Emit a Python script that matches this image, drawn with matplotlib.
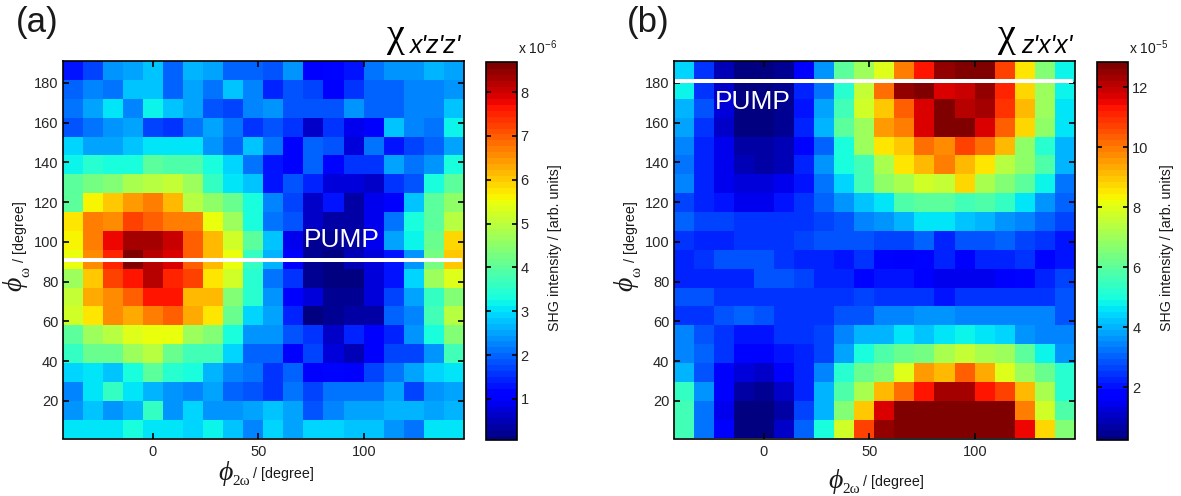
#!/usr/bin/env python

import numpy as np
import matplotlib
matplotlib.use('Agg')
import matplotlib.pyplot as plt

plt.rcParams['font.family'] = ['Liberation Sans', 'DejaVu Sans']
plt.rcParams['mathtext.default'] = 'regular'

W, H = 1181, 496

# rows run from the top of the map (phi_w = 191) down to the bottom (phi_w = 1)
# panel a, units of 1e-6
chi_xzz = [
    [1.4, 1.8, 2.4, 2.6, 2.85, 1.95, 2.7, 2.55, 1.95, 1.95, 1.9, 2.4, 1.1, 1.2, 1.35, 2.2, 2.4, 2.4, 2.65, 2.5],
    [1.95, 2.35, 2.2, 2.8, 2.85, 1.95, 2.5, 2.1, 2.85, 2.35, 1.45, 1.9, 1.8, 1.1, 1.6, 2.0, 2.0, 2.3, 2.25, 2.4],
    [2.2, 2.5, 3.1, 2.35, 3.2, 2.8, 2.6, 1.85, 1.8, 2.35, 2.4, 1.9, 1.9, 1.9, 2.4, 1.95, 2.0, 2.3, 2.3, 2.85],
    [1.85, 2.1, 2.4, 2.55, 1.75, 1.6, 2.2, 2.55, 2.2, 1.6, 1.9, 1.6, 0.7, 1.6, 0.9, 1.05, 2.8, 2.25, 2.2, 3.2],
    [2.95, 2.6, 2.6, 2.8, 3.15, 3.05, 3.1, 2.4, 2.0, 2.8, 2.1, 1.1, 2.0, 1.85, 0.8, 2.1, 1.35, 1.75, 2.0, 2.5],
    [3.25, 3.55, 3.4, 3.3, 4.0, 3.85, 3.9, 3.3, 3.0, 2.2, 1.3, 1.1, 2.0, 1.2, 1.6, 1.6, 2.6, 2.2, 2.4, 3.3],
    [4.0, 4.3, 4.5, 4.9, 5.0, 5.15, 4.75, 3.7, 3.1, 2.85, 1.4, 1.9, 1.45, 0.85, 0.85, 0.7, 1.6, 1.9, 3.3, 4.0],
    [4.1, 5.6, 6.1, 6.5, 6.8, 6.2, 5.0, 4.6, 4.2, 3.3, 2.3, 1.8, 0.7, 1.4, 0.35, 1.0, 1.05, 2.85, 4.0, 4.6],
    [5.8, 6.7, 6.6, 7.3, 7.05, 6.8, 6.8, 5.55, 4.65, 3.3, 2.2, 1.9, 0.7, 0.4, 0.4, 1.0, 2.1, 3.3, 4.1, 5.0],
    [5.6, 6.7, 7.8, 8.3, 8.4, 8.1, 7.05, 6.2, 5.3, 4.0, 2.85, 1.0, 0.3, 0.3, 0.35, 0.95, 2.55, 3.2, 4.2, 5.9],
    [5.5, 6.6, 7.5, 8.65, 8.2, 8.0, 7.05, 6.15, 5.5, 3.6, 2.75, 1.1, 0.2, 0.15, 0.5, 0.85, 1.3, 2.45, 4.35, 6.1],
    [4.75, 6.0, 7.3, 7.65, 8.2, 7.5, 7.3, 5.8, 5.2, 3.45, 2.15, 1.6, 0.2, 0.1, 0.1, 0.75, 1.35, 3.0, 4.75, 5.35],
    [5.1, 6.3, 6.55, 7.05, 7.65, 7.65, 6.25, 6.25, 4.4, 3.45, 2.45, 1.1, 0.85, 0.25, 0.25, 0.85, 1.7, 2.6, 3.6, 4.5],
    [5.25, 5.8, 6.55, 6.35, 6.8, 6.95, 6.3, 5.8, 4.2, 3.0, 2.55, 1.45, 0.06, 0.3, 0.4, 0.45, 2.0, 2.25, 3.75, 4.95],
    [4.0, 4.65, 4.95, 5.35, 5.5, 5.5, 4.75, 4.5, 3.3, 2.45, 2.45, 1.85, 1.6, 0.65, 1.45, 1.1, 1.45, 2.45, 3.3, 4.4],
    [3.6, 4.2, 4.2, 4.75, 5.0, 4.2, 3.75, 3.75, 3.0, 2.0, 2.0, 1.1, 1.8, 0.8, 0.55, 1.05, 1.8, 1.8, 2.45, 3.75],
    [2.95, 3.05, 2.85, 3.3, 4.0, 3.45, 3.3, 2.7, 2.35, 2.2, 1.6, 2.0, 1.1, 1.25, 1.1, 1.8, 2.2, 2.6, 2.95, 3.05],
    [2.35, 3.05, 3.6, 3.05, 2.7, 2.4, 2.35, 2.6, 2.0, 1.9, 1.6, 2.2, 1.7, 2.1, 2.1, 2.1, 2.55, 1.7, 2.4, 2.6],
    [2.45, 2.8, 2.4, 2.7, 3.7, 2.4, 2.95, 2.4, 2.45, 2.6, 2.85, 2.55, 1.85, 2.3, 2.6, 2.6, 2.7, 2.7, 2.55, 2.7],
    [3.15, 3.15, 3.15, 3.4, 3.15, 3.15, 2.95, 3.2, 2.85, 2.35, 2.9, 2.55, 2.9, 2.9, 2.85, 2.8, 2.4, 2.1, 3.1, 3.15],
]

# panel b, units of 1e-5
chi_zxx = [
    [4.5, 2.6, 0.9, 0.25, 0.25, 0.5, 1.7, 3.7, 6.0, 7.1, 8.1, 10.0, 11.3, 12.6, 12.85, 12.7, 10.7, 8.6, 6.65, 4.85],
    [4.9, 2.5, 1.2, 0.3, 0.3, 0.5, 2.3, 3.3, 5.2, 7.6, 10.2, 12.5, 12.85, 11.7, 11.9, 12.5, 11.1, 8.85, 6.95, 4.85],
    [4.15, 2.85, 1.4, 0.3, 0.25, 0.5, 2.1, 3.95, 5.6, 7.75, 8.95, 10.3, 11.8, 12.75, 12.1, 12.3, 10.9, 9.2, 7.0, 4.6],
    [3.95, 2.5, 1.1, 0.4, 0.25, 0.5, 2.3, 4.05, 6.1, 7.1, 9.6, 10.0, 11.8, 12.85, 12.85, 11.7, 10.3, 8.75, 6.85, 4.6],
    [3.4, 2.4, 1.55, 0.8, 0.7, 0.9, 1.9, 3.05, 5.0, 7.1, 8.6, 9.05, 10.1, 9.8, 10.7, 10.1, 9.2, 6.75, 5.2, 4.15],
    [3.3, 2.4, 1.55, 0.9, 0.7, 1.0, 2.4, 3.75, 5.0, 5.6, 7.3, 8.6, 9.2, 9.9, 9.3, 8.6, 7.4, 6.85, 5.8, 4.15],
    [3.5, 2.3, 1.6, 1.4, 1.4, 1.6, 2.2, 3.3, 4.4, 5.6, 6.75, 7.2, 7.9, 7.55, 8.75, 7.2, 6.55, 6.1, 4.85, 3.3],
    [2.7, 2.4, 2.1, 1.55, 1.55, 2.1, 2.5, 3.05, 3.75, 4.3, 4.6, 5.9, 6.1, 6.1, 5.6, 5.8, 5.4, 4.6, 3.75, 3.15],
    [3.05, 2.7, 2.7, 2.5, 2.5, 2.6, 2.6, 2.7, 3.0, 3.4, 3.75, 4.15, 4.7, 4.6, 4.3, 4.15, 3.75, 3.55, 3.15, 2.7],
    [2.5, 2.3, 2.3, 2.6, 2.6, 2.6, 2.7, 2.85, 2.85, 2.85, 2.7, 2.7, 3.15, 2.3, 2.95, 2.95, 3.05, 2.7, 2.5, 2.1],
    [2.3, 2.5, 2.95, 2.95, 2.85, 2.6, 2.3, 2.4, 2.2, 2.6, 2.0, 1.7, 2.0, 2.3, 1.65, 2.3, 2.3, 2.6, 1.9, 2.2],
    [2.4, 2.4, 2.4, 2.4, 2.95, 2.95, 2.7, 2.3, 2.3, 1.9, 2.2, 2.2, 1.65, 1.55, 1.55, 1.55, 1.7, 1.9, 2.3, 2.7],
    [2.95, 2.95, 2.5, 2.5, 2.5, 2.5, 2.5, 2.5, 2.5, 2.7, 2.5, 2.5, 2.5, 2.2, 2.5, 2.5, 2.5, 2.5, 2.5, 2.95],
    [2.5, 2.5, 2.85, 3.05, 2.85, 2.5, 2.5, 2.5, 2.95, 2.95, 3.5, 3.55, 3.65, 3.65, 3.55, 3.4, 3.55, 3.4, 3.55, 2.95],
    [3.4, 2.95, 2.6, 2.1, 2.1, 2.5, 2.5, 2.7, 3.5, 4.05, 4.15, 4.6, 4.3, 4.6, 4.9, 4.6, 4.4, 3.75, 3.55, 3.55],
    [3.55, 3.05, 2.6, 1.9, 1.9, 2.1, 2.3, 2.7, 3.95, 5.0, 5.8, 6.2, 6.45, 7.3, 7.7, 7.3, 6.95, 6.0, 4.85, 3.75],
    [4.15, 2.95, 1.7, 1.4, 1.2, 1.7, 2.3, 3.55, 5.2, 6.2, 6.65, 8.1, 9.6, 9.3, 10.3, 9.5, 8.1, 7.0, 6.2, 5.2],
    [5.4, 3.65, 1.7, 0.7, 0.5, 1.2, 2.3, 4.15, 5.8, 7.3, 9.15, 10.2, 11.3, 12.3, 12.3, 11.3, 10.7, 9.15, 7.3, 5.2],
    [5.6, 3.3, 1.55, 0.4, 0.25, 0.8, 2.7, 4.05, 6.55, 8.95, 11.7, 12.85, 12.85, 12.85, 12.85, 12.85, 12.85, 9.9, 7.9, 5.9],
    [5.6, 3.3, 1.65, 0.3, 0.3, 1.1, 3.15, 5.0, 7.9, 10.7, 12.5, 12.85, 12.85, 12.85, 12.85, 12.85, 12.85, 11.5, 8.85, 6.55],
]

x_ticks = [0, 50, 100]
y_ticks = [20, 40, 60, 80, 100, 120, 140, 160, 180]
cbar_ticks_a = [1, 2, 3, 4, 5, 6, 7, 8]
cbar_ticks_b = [2, 4, 6, 8, 10, 12]


def px_axes(fig, left, top, right, bottom):
    return fig.add_axes([left / W, 1 - bottom / H, (right - left) / W, (bottom - top) / H])


def px_text(fig, x, y, s, **kw):
    return fig.text(x / W, 1 - y / H, s, **kw)


def xlabel(fig, x, y):
    base = dict(va='baseline', ha='left', color='#1a1a1a')
    px_text(fig, x, y, '\u03d5', fontsize=20, style='italic', family='Liberation Serif', **base)
    px_text(fig, x + 14, y + 5, '2\u03c9', fontsize=11, family='Liberation Serif', **base)
    px_text(fig, x + 35, y - 2, '/ [degree]', fontsize=10.3, **base)


def ylabel(fig, x, y):
    base = dict(rotation=90, rotation_mode='anchor', va='baseline', ha='left', color='#1a1a1a')
    px_text(fig, x, y, '\u03d5', fontsize=20, style='italic', family='Liberation Serif', **base)
    px_text(fig, x + 8, y - 14, '\u03c9', fontsize=11, family='Liberation Serif', **base)
    px_text(fig, x + 3, y - 29, '/ [degree]', fontsize=10.3, **base)


def panel(fig, data, box, cbox, vmin, vmax, cticks, exponent, pump, line_y, letter, sub_title):
    left, top, right, bottom = box
    x_edges = np.linspace(-42.5, 147, 21)
    y_edges = np.linspace(191, 1, 21)

    ax = px_axes(fig, left, top, right, bottom)
    mesh = ax.pcolormesh(x_edges, y_edges, np.array(data), cmap=plt.get_cmap('jet', 64),
                         vmin=vmin, vmax=vmax, shading='flat')
    ax.hlines(line_y, -42, 146, color='white', lw=2.9)
    ax.text(pump[0], pump[1], 'PUMP', color='white', fontsize=19, ha='center', va='center')
    ax.set_xlim(-42.5, 147)
    ax.set_ylim(1, 191)
    ax.set_xticks(x_ticks)
    ax.set_yticks(y_ticks)
    ax.tick_params(direction='in', top=True, right=True, length=4, width=1.2,
                   labelsize=10.5, labelcolor='#262626')
    ax.tick_params(axis='x', pad=5)
    ax.tick_params(axis='y', pad=3)
    for s in ax.spines.values():
        s.set_linewidth(1.2)

    cax = px_axes(fig, *cbox)
    cb = fig.colorbar(mesh, cax=cax)
    cb.set_ticks(cticks)
    cax.tick_params(direction='in', left=True, right=True, length=3.5, width=1.2,
                    labelsize=10.5, labelcolor='#262626', pad=3)
    cb.outline.set_linewidth(1.2)
    cb.solids.set_edgecolor('face')

    px_text(fig, cbox[2] + 1, 54, 'x 10$^{%d}$' % exponent, fontsize=10, color='#1a1a1a')
    px_text(fig, cbox[2] + 39, 248, 'SHG intensity / [arb. units]', fontsize=10.3, rotation=90,
            ha='center', va='center', color='#1a1a1a')

    px_text(fig, left - 47, 32, letter, fontsize=25, color='#1a1a1a', va='baseline')
    px_text(fig, right - 78, 46, '\u03c7', fontsize=29, family='Liberation Serif', color='black', va='baseline')
    px_text(fig, right - 54, 53, sub_title, fontsize=17.8, style='italic', color='black', va='baseline')


def plot():
    fig = plt.figure(figsize=(W / 100, H / 100), dpi=100)

    panel(fig, chi_xzz, (62.5, 61, 464, 438.5), (486, 61.5, 516.5, 440), 0.06, 8.7,
          cbar_ticks_a, -6, (89.3, 100.9), 91, '(a)', "x'z'z'")
    panel(fig, chi_zxx, (673.5, 61, 1075, 438.5), (1097, 61.5, 1128, 440), 0.25, 12.85,
          cbar_ticks_b, -5, (-5, 170.4), 181, '(b)', "z'x'x'")

    xlabel(fig, 218, 480)
    xlabel(fig, 828, 488)
    ylabel(fig, 21, 291)
    ylabel(fig, 632, 291)

    fig.savefig('out.png', dpi=100)


if __name__ == '__main__':
    plot()
